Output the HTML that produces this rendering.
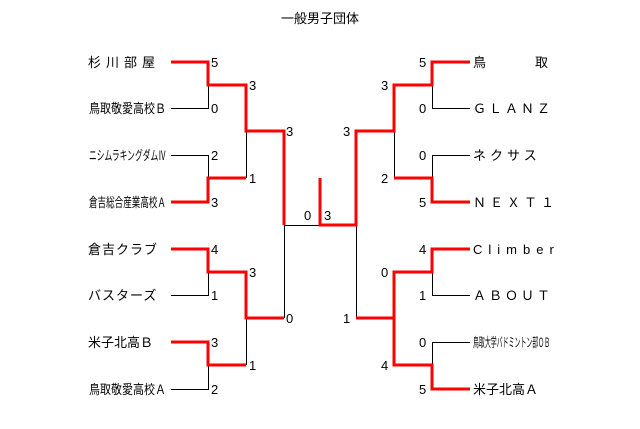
<!DOCTYPE html>
<html><head><meta charset="utf-8"><style>
html,body{margin:0;padding:0;background:#fff;}
svg{display:block}
text{font-family:"Liberation Sans","Noto Sans CJK JP",sans-serif;fill:#000;font-size:13px;}
.n{font-size:15px;fill:#111}
</style></head><body>
<svg width="640" height="429" viewBox="0 0 640 429">
<text x="320" y="23" text-anchor="middle" font-size="13">一般男子団体</text>
<g stroke="#000" stroke-width="1" fill="none" shape-rendering="crispEdges">
<path d="M171 108.5H208.5V85 M171 155.5H208.5V178 M171 295.5H208.5V272 M171 389.5H208.5V365 M246.5 131V178 M246.5 318V365 M284.5 225V318 M284 225.5H320"/>
<path d="M470 108.5H432.5V85 M470 155.5H432.5V178 M470 295.5H432.5V272 M470 342.5H432.5V365 M394.5 131V178 M356.5 225V318"/>
</g>
<g stroke="#f00" stroke-width="3" fill="none" stroke-linejoin="miter">
<path d="M171 62H208V85H246V131H284V225"/>
<path d="M171 202H208V178H246"/>
<path d="M171 249H208V272H246V318H284"/>
<path d="M171 342H208V365H246"/>
<path d="M320 178V225H356V131H394V85H432V62H470"/>
<path d="M470 202H432V178H394"/>
<path d="M470 249H432V272H394V365H432V389H470"/>
<path d="M356 318H394"/>
</g>
<g class="n">
<text x="211" y="67">5</text><text x="211" y="113">0</text><text x="211" y="160">2</text><text x="211" y="207">3</text>
<text x="211" y="254">4</text><text x="211" y="300">1</text><text x="211" y="347">3</text><text x="211" y="394">2</text>
<text x="249" y="90">3</text><text x="249" y="183">1</text><text x="249" y="277">3</text><text x="249" y="370">1</text>
<text x="286" y="136">3</text><text x="286" y="323">0</text>
<text x="304" y="220">0</text><text x="324" y="220">3</text>
<text x="419" y="67">5</text><text x="419" y="113">0</text><text x="419" y="160">0</text><text x="419" y="207">5</text>
<text x="419" y="254">4</text><text x="419" y="300">1</text><text x="419" y="347">0</text><text x="419" y="394">5</text>
<text x="381" y="90">3</text><text x="381" y="183">2</text><text x="381" y="277">0</text><text x="381" y="370">4</text>
<text x="343" y="136">3</text><text x="343" y="323">1</text>
</g>
<g>
<text x="88" y="67" letter-spacing="5">杉川部屋</text>
<text x="89" y="113" font-size="12" textLength="77" lengthAdjust="spacingAndGlyphs">鳥取敬愛高校Ｂ</text>
<text x="89" y="160" font-size="10" textLength="77" lengthAdjust="spacingAndGlyphs">ニシムラキングダムⅣ</text>
<text x="89" y="207" font-size="10" textLength="77" lengthAdjust="spacingAndGlyphs">倉吉総合産業高校Ａ</text>
<text x="88" y="254" letter-spacing="1">倉吉クラブ</text>
<text x="88" y="300" letter-spacing="1">バスターズ</text>
<text x="88" y="347">米子北高Ｂ</text>
<text x="89" y="394" font-size="12" textLength="77" lengthAdjust="spacingAndGlyphs">鳥取敬愛高校Ａ</text>
<text x="473" y="67">鳥</text><text x="535" y="67">取</text>
<text x="473" y="113" letter-spacing="3">ＧＬＡＮＺ</text>
<text x="473" y="160" letter-spacing="4">ネクサス</text>
<text x="473" y="207" letter-spacing="4" font-size="12">ＮＥＸＴ１</text>
<text x="473" y="254" letter-spacing="6" font-size="12">Climber</text>
<text x="473" y="300" letter-spacing="3" font-size="12">ＡＢＯＵＴ</text>
<text x="473" y="347" font-size="9" textLength="77" lengthAdjust="spacingAndGlyphs">鳥取大学バドミントン部ＯＢ</text>
<text x="473" y="394">米子北高Ａ</text>
</g>
</svg>
</body></html>
